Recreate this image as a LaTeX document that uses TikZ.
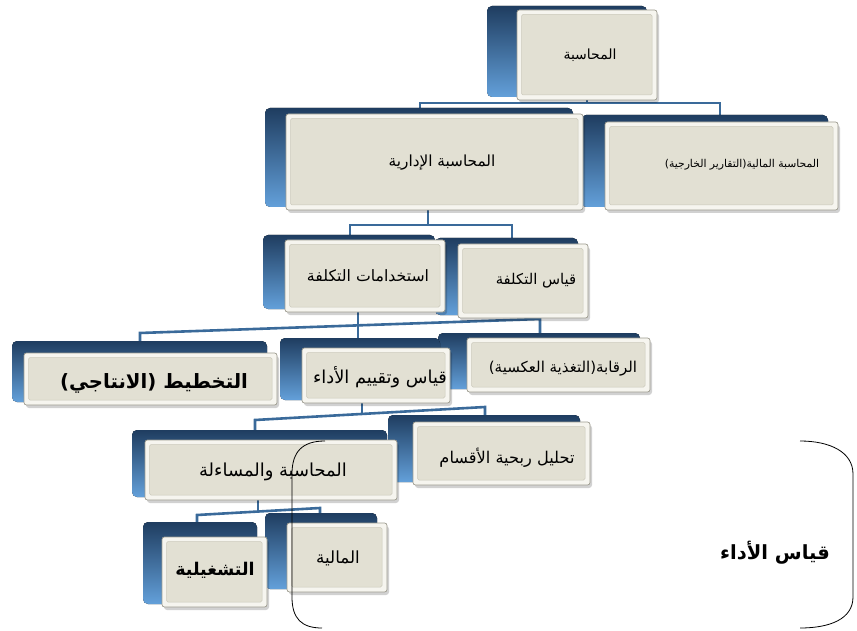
\documentclass[tikz,border=0pt]{standalone}
\usepackage{fontspec}
\newfontfamily\arfont[Script=Arabic]{DejaVu Sans}
\TeXXeTstate=1
\pgfdeclarelayer{bg}
\pgfsetlayers{bg,main}
\definecolor{slabtop}{HTML}{1F3D60}
\definecolor{slabmid}{HTML}{3E77B3}
\definecolor{slabbot}{HTML}{63A0DA}
\definecolor{rimfill}{HTML}{F6F5EF}
\definecolor{rimline}{HTML}{9E9C90}
\definecolor{panel}{HTML}{E2E0D3}
\definecolor{panelline}{HTML}{CBC9BB}
\definecolor{connblue}{HTML}{3A6A9A}
\tikzset{
  slab/.style={top color=slabtop, middle color=slabmid, bottom color=slabbot, rounded corners=5pt},
  shade box/.style={fill=black, opacity=0.18, rounded corners=3pt},
  frontbox/.style={draw=rimline, line width=0.7pt, fill=rimfill, rounded corners=2.5pt, inner sep=0pt,
    path picture={\filldraw[fill=panel, draw=panelline, line width=0.5pt, rounded corners=1.5pt]
      ([shift={(4.5pt,-4.5pt)}]path picture bounding box.north west) rectangle
      ([shift={(-5pt,5pt)}]path picture bounding box.south east);}},
  conn/.style={draw=connblue, line width=2.6pt},
  lbl/.style={inner sep=0pt, text=black},
  bracket/.style={draw=black, line width=0.8pt}
}
% name, x1, y1, x2, y2, slab dx, slab dy
\newcommand\obox[7]{%
  \fill[slab] ({#2-#6},{#3-#7}) rectangle ({#4-10},{#5-3});
  \fill[shade box] ({#2+2},{#3+3}) rectangle ({#4+2},{#5+3});
  \node[frontbox, minimum width={(#4-#2)*1pt}, minimum height={(#5-#3)*1pt}] (#1) at ({(#2+#4)/2},{(#3+#5)/2}) {};
}
\begin{document}
\begin{tikzpicture}[x=1pt,y=-1pt]
\useasboundingbox (0,0) rectangle (857,631);
\begin{pgfonlayer}{bg}
\fill[white] (0,0) rectangle (857,631);
\end{pgfonlayer}
% level 1
\obox{b1}{517}{10}{657}{100}{30}{4}
% level 2 (right first)
\obox{b3}{605}{122}{838}{210}{24}{7}
\obox{b2}{286}{114}{583}{210}{21}{6}
% level 3
\obox{b5}{458}{244}{588}{318}{23}{6}
\obox{b4}{285}{240}{445}{312}{22}{5}
% level 4
\obox{b8}{467}{338}{650}{392}{29}{5}
\obox{b7}{302}{348}{450}{403}{22}{10}
\obox{b6}{24}{353}{277}{405}{12}{12}
% level 5
\obox{b10}{413}{422}{590}{485}{25}{7}
\obox{b9}{145}{440}{397}{500}{13}{10}
% level 6
\obox{b12}{287}{523}{387}{592}{22}{10}
\obox{b11}{162}{537}{267}{607}{19}{15}

% junctions
\coordinate (j1l) at (420,103); \coordinate (j1r) at (720,103);
\coordinate (j2l) at (350,225); \coordinate (j2m) at (428,225); \coordinate (j2r) at (512,225);
\coordinate (j3a) at (140,333); \coordinate (j3b) at (358,325); \coordinate (j3c) at (540,319);
\coordinate (j4l) at (255,420); \coordinate (j4m) at (362,414); \coordinate (j4r) at (485,407);
\coordinate (j5l) at (197,515); \coordinate (j5m) at (258,511); \coordinate (j5r) at (320,508);

\begin{pgfonlayer}{bg}
\draw[conn] (b1.south) -- (b1.south |- j1l);
\draw[conn] (j1l |- b2.north) -- (j1l) -- (j1r) -- (j1r |- b3.north);
\draw[conn] (j2m |- b2.south) -- (j2m);
\draw[conn] (j2l |- b4.north) -- (j2l) -- (j2r) -- (j2r |- b5.north);
\draw[conn] (j3b |- b4.south) -- (j3b |- b7.north);
\draw[conn] (j3c |- b5.south) -- (j3c);
\draw[conn] (j3a |- b6.north) -- (j3a) -- (j3c) -- (j3c |- b8.north);
\draw[conn] (j4m |- b7.south) -- (j4m);
\draw[conn] (j4l |- b9.north) -- (j4l) -- (j4r) -- (j4r |- b10.north);
\draw[conn] (j5m |- b9.south) -- (j5m);
\draw[conn] (j5l |- b11.north) -- (j5l) -- (j5r) -- (j5r |- b12.north);
\end{pgfonlayer}

% labels
\node[lbl, font={\arfont\fontsize{14}{16}\selectfont}] (t1) at (590,55) {\beginR المحاسبة\endR};
\node[lbl, font={\arfont\fontsize{15.3}{17}\selectfont}] (t2) at (442,163) {\beginR المحاسبة الإدارية\endR};
\node[lbl, font={\arfont\fontsize{10.8}{13}\selectfont}] (t3) at (742,165) {\beginR المحاسبة المالية(التقارير الخارجية)\endR};
\node[lbl, font={\arfont\fontsize{15.7}{18}\selectfont}] (t4) at (368,276) {\beginR استخدامات التكلفة\endR};
\node[lbl, font={\arfont\fontsize{14.8}{17}\selectfont}] (t5) at (536,281) {\beginR قياس التكلفة\endR};
\node[lbl, font={\arfont\bfseries\fontsize{19.7}{23}\selectfont}] (t6) at (154,383) {\beginR التخطيط (الانتاجي)\endR};
\node[lbl, font={\arfont\fontsize{17.8}{20}\selectfont}] (t7) at (380,377) {\beginR قياس وتقييم الأداء\endR};
\node[lbl, font={\arfont\fontsize{15}{17}\selectfont}] (t8) at (563,369) {\beginR الرقابة(التغذية العكسية)\endR};
\node[lbl, font={\arfont\fontsize{17.9}{20}\selectfont}] (t9) at (273,472) {\beginR المحاسبة والمساءلة\endR};
\node[lbl, font={\arfont\fontsize{16.2}{19}\selectfont}] (t10) at (507,458) {\beginR تحليل ربحية الأقسام\endR};
\node[lbl, font={\arfont\bfseries\fontsize{17.5}{21}\selectfont}] (t11) at (215,570) {\beginR التشغيلية\endR};
\node[lbl, font={\arfont\fontsize{16.7}{19}\selectfont}] (t12) at (338,558) {\beginR المالية\endR};
\node[lbl, font={\arfont\bfseries\fontsize{19.5}{23}\selectfont}] (t13) at (775,553) {\beginR قياس الأداء\endR};

% brackets
\draw[bracket] (325,441) .. controls (302,441) and (292,452) .. (292,474) -- (292,597) .. controls (292,619) and (302,628) .. (322,628);
\draw[bracket] (800,441) .. controls (830,441) and (853,452) .. (853,474) -- (853,597) .. controls (853,619) and (830,628) .. (800,628);
\end{tikzpicture}
\end{document}
